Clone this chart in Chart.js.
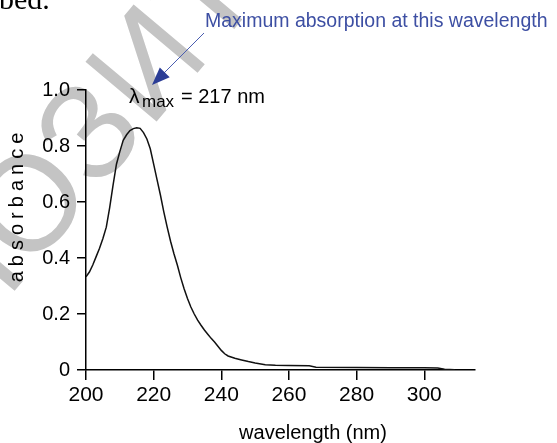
<!DOCTYPE html>
<html>
<head>
<meta charset="utf-8">
<script src="https://cdn.jsdelivr.net/npm/chart.js@4"></script>
<style>
  html, body { margin: 0; padding: 0; background: #fff; }
  #wrap { width: 557px; height: 443px; }
</style>
</head>
<body>
<div id="wrap"><canvas id="uvChart"></canvas></div>
<script>
// UV spectrum
const wavelengths = [200, 201, 202, 203, 204, 205, 206, 207, 208, 209, 210, 211, 212, 213, 214, 215, 216, 217, 218, 219,
  220, 221, 222, 223, 224, 225, 226, 227, 228, 229, 230, 231, 232, 233, 234, 235, 236, 237, 238, 239,
  240, 241, 242, 244, 246, 248, 250, 253, 256, 260, 266, 268, 280, 290, 300, 304, 306, 309];
const absorbance = [0.333, 0.35, 0.375, 0.405, 0.435, 0.47, 0.51, 0.58, 0.66, 0.735, 0.78, 0.82, 0.84, 0.855, 0.862, 0.865, 0.863, 0.848, 0.825, 0.79,
  0.735, 0.68, 0.625, 0.565, 0.51, 0.46, 0.415, 0.375, 0.33, 0.29, 0.255, 0.225, 0.2, 0.178, 0.16, 0.143, 0.128, 0.113, 0.1, 0.085,
  0.07, 0.058, 0.05, 0.042, 0.036, 0.03, 0.025, 0.019, 0.017, 0.016, 0.015, 0.01, 0.009, 0.008, 0.008, 0.007, 0.003, 0.001];

const xTicks = [200, 220, 240, 260, 280, 300];
const yTicks = [0, 0.2, 0.4, 0.6, 0.8, 1.0];
const yTickLabels = ["0", "0.2", "0.4", "0.6", "0.8", "1.0"];

const FONT = '"Liberation Sans", Arial, sans-serif';

const decor = {
  id: "decor",
  beforeDraw(chart) {
    const ctx = chart.ctx;
    // watermark behind everything, centred on the "З"
    const size = 135;
    ctx.save();
    ctx.fillStyle = "#c4c4c4";
    ctx.font = size + "px " + FONT;
    ctx.textBaseline = "alphabetic";
    ctx.translate(86, 130);
    ctx.rotate(-50 * Math.PI / 180);
    const cy = 0.36 * size;
    const wZ = ctx.measureText("З").width;
    ctx.textAlign = "right";
    ctx.fillText("РЕПО", -wZ / 2, cy);
    ctx.textAlign = "center";
    ctx.fillText("З", 0, cy);
    ctx.textAlign = "left";
    ctx.fillText("ИТОРИЙ", wZ / 2, cy);
    ctx.restore();

    // fragment of the page text above the figure
    ctx.save();
    ctx.fillStyle = "#000";
    ctx.font = '30px "Liberation Serif", serif';
    ctx.textAlign = "left";
    ctx.textBaseline = "alphabetic";
    ctx.fillText("bed.", -1, 9);
    ctx.restore();
  },
  afterDraw(chart) {
    const ctx = chart.ctx;
    ctx.save();
    ctx.fillStyle = "#000";
    ctx.textBaseline = "alphabetic";

    // lambda max label
    ctx.textAlign = "left";
    ctx.font = "21px " + FONT;
    ctx.fillText("λ", 129, 103);
    ctx.font = "17px " + FONT;
    ctx.fillText("max", 142, 107);
    ctx.font = "20px " + FONT;
    ctx.fillText("= 217 nm", 181, 103);

    // axis titles
    ctx.textAlign = "center";
    ctx.fillText("wavelength (nm)", 313, 439);
    ctx.save();
    ctx.translate(23, 207);
    ctx.rotate(-Math.PI / 2);
    ctx.letterSpacing = "5px";
    ctx.fillText("absorbance", 2, 0);
    ctx.restore();

    // blue callout
    ctx.fillStyle = "#3d4fa3";
    ctx.textAlign = "left";
    ctx.font = "19.5px " + FONT;
    ctx.fillText("Maximum absorption at this wavelength", 205, 27);

    ctx.strokeStyle = "#4a5db0";
    ctx.lineWidth = 1;
    ctx.beginPath();
    ctx.moveTo(204, 33);
    ctx.lineTo(163, 74);
    ctx.stroke();
    ctx.fillStyle = "#2b3d96";
    ctx.beginPath();
    ctx.moveTo(152, 85);
    ctx.lineTo(159.8, 67.4);
    ctx.lineTo(169.7, 77.3);
    ctx.closePath();
    ctx.fill();
    ctx.restore();
  }
};

new Chart(document.getElementById("uvChart"), {
  type: "line",
  data: {
    datasets: [{
      data: wavelengths.map((w, i) => ({ x: w, y: absorbance[i] })),
      borderColor: "#111",
      borderWidth: 1.5,
      pointRadius: 0,
      tension: 0,
      fill: false
    }]
  },
  options: {
    responsive: true,
    maintainAspectRatio: false,
    animation: false,
    layout: { padding: { top: 90, right: 82, left: 0, bottom: 0 } },
    plugins: { legend: { display: false }, tooltip: { enabled: false } },
    scales: {
      x: {
        type: "linear",
        min: 200,
        max: 315,
        afterBuildTicks: s => { s.ticks = xTicks.map(v => ({ value: v })); },
        afterFit: s => { s.height = 73; },
        grid: { drawOnChartArea: false, tickLength: 10, color: "#000", lineWidth: 1.5 },
        border: { color: "#000", width: 1.5 },
        ticks: { color: "#000", font: { family: FONT, size: 21 }, padding: 3, maxRotation: 0, autoSkip: false }
      },
      y: {
        min: 0,
        max: 1,
        afterBuildTicks: s => { s.ticks = yTicks.map(v => ({ value: v })); },
        afterFit: s => { s.width = 86; },
        grid: { drawOnChartArea: false, tickLength: 9, color: "#000", lineWidth: 1.5 },
        border: { color: "#000", width: 1.5 },
        ticks: {
          color: "#000",
          font: { family: FONT, size: 20 },
          padding: 7,
          autoSkip: false,
          callback: (v, i) => yTickLabels[i]
        }
      }
    }
  },
  plugins: [decor]
});
</script>
</body>
</html>
